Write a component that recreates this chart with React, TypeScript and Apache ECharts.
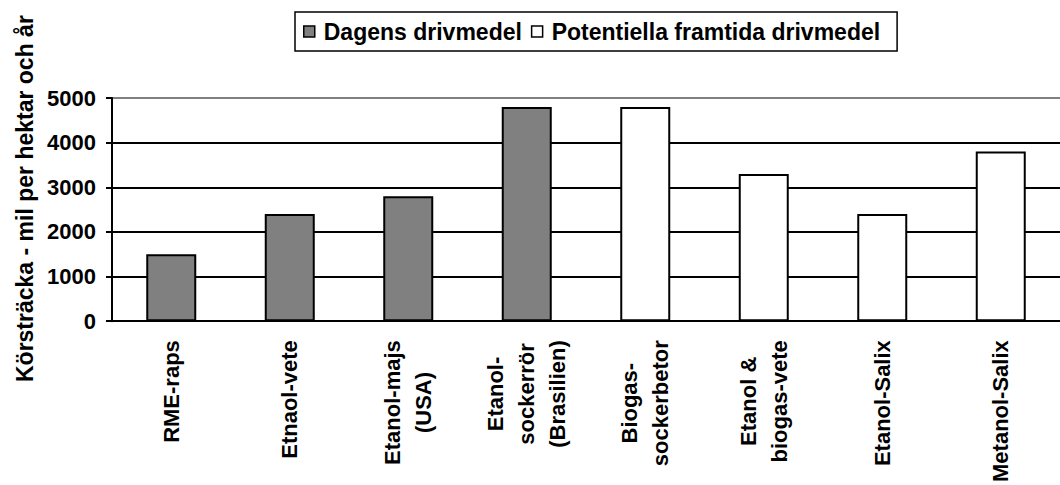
import React, { useEffect, useRef } from "react";
import * as echarts from "echarts";

const categories = [
  "RME-raps",
  "Etnaol-vete",
  "Etanol-majs\n(USA)",
  "Etanol-\nsockerrör\n(Brasilien)",
  "Biogas-\nsockerbetor",
  "Etanol &\nbiogas-vete",
  "Etanol-Salix",
  "Metanol-Salix",
];
const dagensValues = [1500, 2400, 2800, 4800, "-", "-", "-", "-"];
const potentiellaValues = ["-", "-", "-", "-", 4800, 3300, 2400, 3800];
const seriesNames = ["Dagens drivmedel", "Potentiella framtida drivmedel"];
const yAxisTitle = "Körsträcka - mil per hektar och år";

const FONT = "'Liberation Sans', Arial, sans-serif";

export default function App() {
  const ref = useRef<HTMLDivElement>(null);
  useEffect(() => {
    if (!ref.current) return;
    const chart = echarts.init(ref.current, null, { renderer: "svg" });
    chart.setOption({
      animation: false,
      backgroundColor: "#fff",
      textStyle: { fontFamily: FONT },
      legend: {
        left: 295,
        top: 12,
        orient: "horizontal",
        padding: [8, 17, 8, 8],
        borderColor: "#000",
        borderWidth: 1.5,
        itemWidth: 11,
        itemHeight: 11,
        itemGap: 9,
        icon: "rect",
        data: seriesNames,
        textStyle: {
          fontFamily: FONT,
          fontWeight: "bold",
          fontSize: 23,
          color: "#000",
          padding: [0, 0, 0, 4],
        },
        itemStyle: { borderWidth: 1.5, borderColor: "#000" },
      },
      grid: { left: 112, right: -11, top: 98, bottom: 161 },
      xAxis: {
        type: "category",
        data: categories,
        axisLine: { lineStyle: { color: "#000", width: 2 } },
        axisTick: { show: false },
        axisLabel: {
          interval: 0,
          rotate: 90,
          margin: 19,
          formatter: (v: string) =>
            v
              .split("\n")
              .map((l) => `{c|${l}}`)
              .join("\n"),
          rich: {
            c: {
              fontFamily: FONT,
              fontWeight: "bold",
              fontSize: 22,
              color: "#000",
              align: "center",
              lineHeight: 31,
            },
          },
        },
      },
      yAxis: {
        type: "value",
        min: 0,
        max: 5000,
        interval: 1000,
        name: yAxisTitle,
        nameLocation: "middle",
        nameGap: 74,
        nameTextStyle: {
          fontFamily: FONT,
          fontWeight: "bold",
          fontSize: 23,
          color: "#000",
          padding: [0, 0, 0, 22],
        },
        axisLine: { show: true, lineStyle: { color: "#000", width: 2 } },
        axisTick: { show: true, length: 6, lineStyle: { color: "#000", width: 2 } },
        axisLabel: {
          margin: 16,
          fontFamily: FONT,
          fontWeight: "bold",
          fontSize: 22,
          color: "#000",
          formatter: (v: number) => String(v),
        },
        splitLine: {
          show: true,
          lineStyle: {
            color: ["#000", "#000", "#000", "#000", "#000", "#808080"],
            width: 2,
          },
        },
      },
      series: [
        {
          name: seriesNames[0],
          type: "bar",
          data: dagensValues,
          barWidth: 50,
          barGap: "-100%",
          itemStyle: { color: "#808080", borderColor: "#000", borderWidth: 2 },
        },
        {
          name: seriesNames[1],
          type: "bar",
          data: potentiellaValues,
          barWidth: 50,
          barGap: "-100%",
          itemStyle: { color: "#fff", borderColor: "#000", borderWidth: 2 },
        },
      ],
    });
    return () => chart.dispose();
  }, []);
  return (
    <div
      ref={ref}
      style={{ position: "absolute", left: 0, top: 0, width: 1060, height: 485 }}
    />
  );
}
